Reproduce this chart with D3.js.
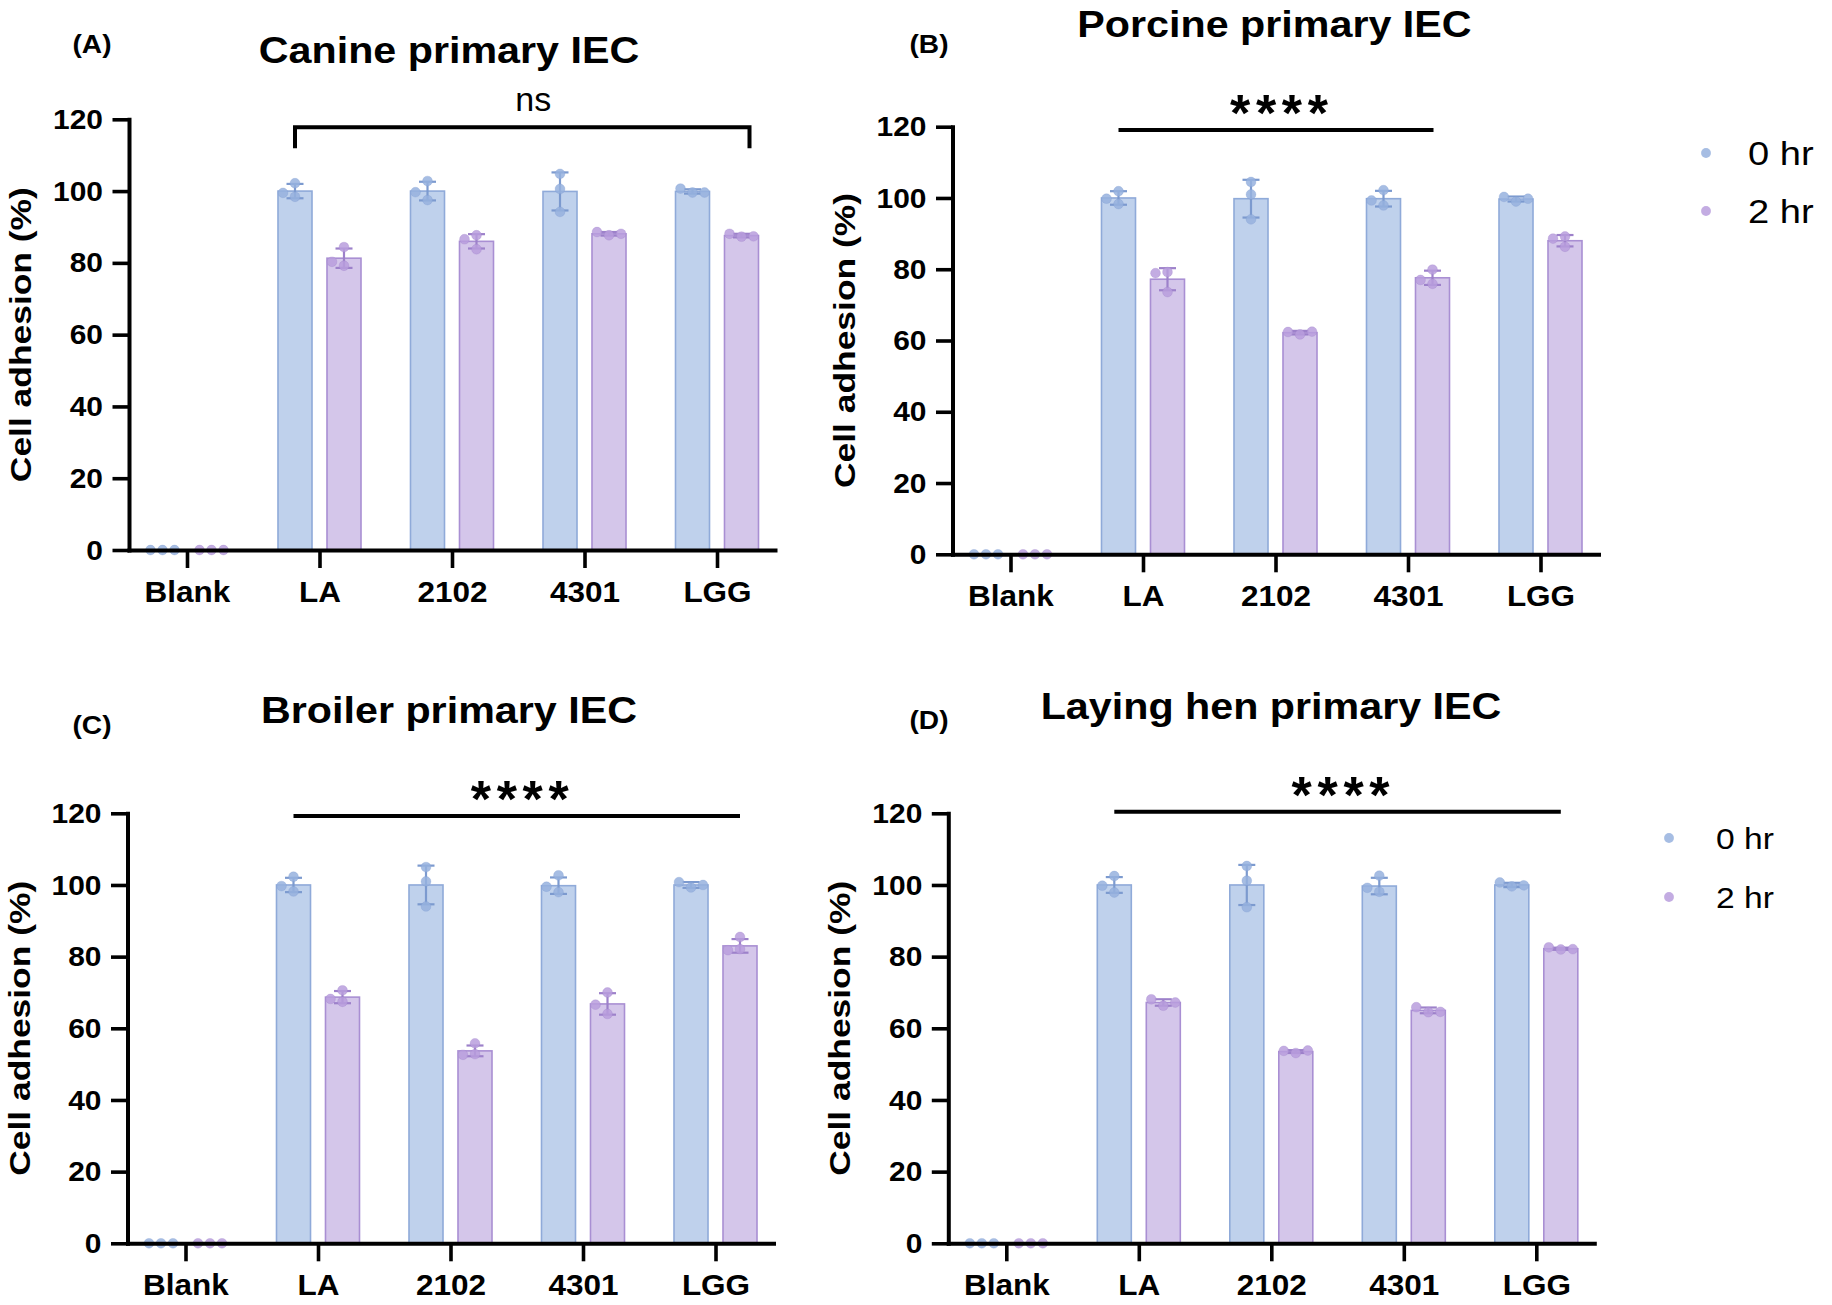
<!DOCTYPE html>
<html><head><meta charset="utf-8">
<script src="https://cdn.jsdelivr.net/npm/d3@7"></script>
<style>
html,body{margin:0;padding:0;background:#fff;}
svg{display:block;}
</style></head><body>
<svg id="chart" width="1832" height="1305"></svg>
<script>
// ---------- DATA ----------
const categories = ["Blank","LA","2102","4301","LGG"];
const seriesNames = ["0 hr","2 hr"];
const yTicks = [0,20,40,60,80,100,120];
const panelTitles = ["Canine primary IEC","Porcine primary IEC","Broiler primary IEC","Laying hen primary IEC"];
const panelLetters = ["(A)","(B)","(C)","(D)"];
const yAxisLabel = "Cell adhesion (%)";

// (A) Canine
const canineMean0 = [0, 100.0, 100.0, 99.9, 99.9];
const canineSD0   = [0, 2.0, 2.6, 5.3, 0.6];
const canineMean2 = [0, 81.3, 86.0, 88.1, 87.6];
const canineSD2   = [0, 2.7, 2.0, 0.5, 0.5];
const caninePoints0 = [[0,0,0],[102.2,98.4,99.5],[102.8,97.5,99.7],[104.8,100.6,94.2],[99.6,100.7,99.6]];
const caninePoints2 = [[0,0,0],[79.2,84.4,80.3],[87.7,83.8,86.6],[87.7,88.6,88.1],[87.3,88.1,87.4]];

// (B) Porcine
const porcineMean0 = [0, 100.0, 99.8, 99.8, 99.7];
const porcineSD0   = [0, 1.9, 5.3, 2.2, 0.7];
const porcineMean2 = [0, 77.2, 62.2, 77.6, 88.0];
const porcineSD2   = [0, 3.1, 0.5, 2.0, 1.6];
const porcinePoints0 = [[0,0,0],[101.9,98.3,99.8],[104.5,101.0,94.0],[97.9,102.2,99.3],[99.0,100.3,99.8]];
const porcinePoints2 = [[0,0,0],[79.2,73.6,78.9],[61.7,62.4,62.5],[75.9,79.9,77.0],[89.2,86.3,88.6]];

// (C) Broiler
const broilerMean0 = [0, 100.0, 100.0, 99.8, 100.0];
const broilerSD0   = [0, 2.0, 5.4, 2.3, 0.8];
const broilerMean2 = [0, 68.7, 53.7, 66.8, 83.0];
const broilerSD2   = [0, 1.7, 1.5, 3.0, 1.9];
const broilerPoints0 = [[0,0,0],[102.3,98.2,99.7],[105.0,101.0,94.0],[98.0,102.7,99.5],[99.3,100.8,100.0]];
const broilerPoints2 = [[0,0,0],[70.6,67.4,68.2],[52.8,55.8,52.6],[64.0,70.0,66.6],[82.1,85.5,81.8]];

// (D) Laying hen
const henMean0 = [0, 100.0, 100.0, 99.7, 100.0];
const henSD0   = [0, 2.2, 5.6, 2.3, 0.6];
const henMean2 = [0, 67.2, 53.5, 65.0, 82.2];
const henSD2   = [0, 0.9, 0.4, 0.8, 0.3];
const henPoints0 = [[0,0,0],[102.5,97.9,99.8],[105.3,101.2,93.8],[98.1,102.6,99.2],[99.6,100.7,99.9]];
const henPoints2 = [[0,0,0],[66.3,68.1,67.2],[53.1,53.7,53.8],[64.5,65.9,64.6],[82.0,82.6,82.1]];

// significance annotations
const sigLabels = ["ns","****","****","****"];
const sigFrom = ["LA","LA","LA","LA"];
const sigTo   = ["LGG","4301","LGG","LGG"];

// ---------- LAYOUT / STYLE ----------
const panelData = [
  {mean:[canineMean0,canineMean2], sd:[canineSD0,canineSD2], pts:[caninePoints0,caninePoints2]},
  {mean:[porcineMean0,porcineMean2], sd:[porcineSD0,porcineSD2], pts:[porcinePoints0,porcinePoints2]},
  {mean:[broilerMean0,broilerMean2], sd:[broilerSD0,broilerSD2], pts:[broilerPoints0,broilerPoints2]},
  {mean:[henMean0,henMean2], sd:[henSD0,henSD2], pts:[henPoints0,henPoints2]}
];
const layout = [
  {x0:129,   yZero:550,    yTop:119.3, titleX:449,    titleY:63.3,  letterX:92,  letterY:53,   sigY:127.3, bracket:true, sigExtra:8},
  {x0:952.5, yZero:554.3,  yTop:126.7, titleX:1274.5, titleY:36.7,  letterX:929, letterY:53,   sigY:130, sigExtra:1,
     legend:{x:1706, ys:[153,211], tx:1748, fs:34}},
  {x0:127.5, yZero:1243.3, yTop:813.3, titleX:449,    titleY:723.3, letterX:92,  letterY:734,  sigY:816, sigExtra:0},
  {x0:948.3, yZero:1243.3, yTop:813.3, titleX:1271,   titleY:719.3, letterX:929, letterY:728.5, sigY:811.7, sigExtra:0,
     legend:{x:1669, ys:[838,897], tx:1716, fs:30}}
];
const AXIS_LEN = 646;
const FONT = '"Liberation Sans", Arial, Helvetica, sans-serif';
const colors = {
  fill:   ["#BFD1EC", "#D4C6EA"],
  stroke: ["#8FAAD9", "#A98FD3"],
  err:    ["#7C9ACF", "#9D81CA"],
  dot:    ["#97B1DE", "#B99EDD"]
};
const DOT_R = 4.9, DOT_STEP = 12, CAP = 8.5;

function stretch(sel, k){
  sel.each(function(){
    const L = this.getComputedTextLength();
    d3.select(this).attr("textLength", L*k).attr("lengthAdjust","spacingAndGlyphs");
  });
}
function swarm(vals, y){
  const placed = [];
  return vals.map(v => {
    const py = y(v);
    const cands = [0,-DOT_STEP,DOT_STEP,-2*DOT_STEP,2*DOT_STEP];
    let off = 0;
    for (const c of cands){
      if (placed.every(p => Math.hypot(p.dx-c, p.y-py) >= 2*DOT_R)) { off = c; break; }
    }
    placed.push({dx:off, y:py});
    return {v, dx:off, y:py};
  });
}

const svg = d3.select("#chart");
svg.append("rect").attr("width",1832).attr("height",1305).attr("fill","#fff");

layout.forEach((L, pi) => {
  const D = panelData[pi];
  const g = svg.append("g");
  const x = d3.scalePoint().domain(categories).range([L.x0, L.x0 + AXIS_LEN]).padding(0.4377);
  const xs = d3.scaleBand().domain(seriesNames).range([-41.5, 41.5]).paddingInner(0.306);
  const y = d3.scaleLinear().domain([0,120]).range([L.yZero, L.yTop]);

  // bars
  seriesNames.forEach((s, si) => {
    const bw = xs.bandwidth();
    g.append("g").selectAll("rect").data(categories.map((c,i)=>({c, v:D.mean[si][i]})).filter(d=>d.v>0))
      .join("rect")
      .attr("x", d => x(d.c) + xs(s))
      .attr("y", d => y(d.v))
      .attr("width", bw)
      .attr("height", d => y(0) - y(d.v))
      .attr("fill", colors.fill[si])
      .attr("stroke", colors.stroke[si])
      .attr("stroke-width", 1.6);
  });

  // error bars
  seriesNames.forEach((s, si) => {
    const eg = g.append("g").attr("stroke", colors.err[si]).attr("stroke-width", 2.2).attr("fill","none");
    categories.forEach((c, i) => {
      const m = D.mean[si][i], sd = D.sd[si][i];
      if (sd <= 0) return;
      const cx = x(c) + xs(s) + xs.bandwidth()/2;
      eg.append("line").attr("x1",cx).attr("x2",cx).attr("y1",y(m-sd)).attr("y2",y(m+sd));
      eg.append("line").attr("x1",cx-CAP).attr("x2",cx+CAP).attr("y1",y(m+sd)).attr("y2",y(m+sd));
      eg.append("line").attr("x1",cx-CAP).attr("x2",cx+CAP).attr("y1",y(m-sd)).attr("y2",y(m-sd));
    });
  });

  // dots
  seriesNames.forEach((s, si) => {
    const dg = g.append("g");
    categories.forEach((c, i) => {
      const cx = x(c) + xs(s) + xs.bandwidth()/2;
      swarm(D.pts[si][i], y).forEach(p => {
        dg.append("circle").attr("cx", cx + p.dx).attr("cy", p.y).attr("r", DOT_R)
          .attr("fill", colors.dot[si]).attr("fill-opacity", 0.85)
          .attr("stroke", colors.err[si]).attr("stroke-opacity", 0.35).attr("stroke-width", 0.8);
      });
    });
  });

  // axes
  const ya = g.append("g").attr("transform", `translate(${L.x0},0)`)
    .call(d3.axisLeft(y).tickValues(yTicks).tickSize(16.5).tickSizeOuter(0).tickPadding(9.5));
  const xa = g.append("g").attr("transform", `translate(0,${L.yZero})`)
    .call(d3.axisBottom(x).tickSize(18).tickSizeOuter(0).tickPadding(12.7));
  [ya, xa].forEach(a => {
    a.attr("font-family", FONT).attr("font-weight","bold");
    a.select(".domain").attr("stroke","#000").attr("stroke-width",4).attr("stroke-linecap","square");
    a.selectAll(".tick line").attr("stroke","#000").attr("stroke-width",3.6);
    a.selectAll(".tick text").attr("fill","#000");
  });
  ya.attr("font-size", 28.5); stretch(ya.selectAll(".tick text"), 1.05);
  xa.attr("font-size", 30); stretch(xa.selectAll(".tick text"), 1.05);

  // y label
  const yl = g.append("text")
    .attr("transform", `translate(${L.x0 - 98},${(L.yZero + L.yTop)/2}) rotate(-90)`)
    .attr("text-anchor","middle").attr("font-family",FONT).attr("font-weight","bold")
    .attr("font-size",30).attr("fill","#000").text(yAxisLabel);
  stretch(yl, 1.18);

  // title
  const tt = g.append("text").attr("x", L.titleX).attr("y", L.titleY)
    .attr("text-anchor","middle").attr("font-family",FONT).attr("font-weight","bold")
    .attr("font-size",36.5).attr("fill","#000").text(panelTitles[pi]);
  stretch(tt, 1.13);

  // letter
  const lt = g.append("text").attr("x", L.letterX).attr("y", L.letterY)
    .attr("text-anchor","middle").attr("font-family",FONT).attr("font-weight","bold")
    .attr("font-size",26).attr("fill","#000").text(panelLetters[pi]);
  stretch(lt, 1.08);

  // significance
  const xa1 = x(sigFrom[pi]) + xs(seriesNames[0]) + xs.bandwidth()/2;
  const xb1 = x(sigTo[pi]) + xs(seriesNames[1]) + xs.bandwidth()/2 + L.sigExtra;
  const sg = g.append("g");
  if (L.bracket) {
    sg.append("path").attr("d", `M${xa1},${L.sigY + 21}V${L.sigY}H${xb1}V${L.sigY + 21}`)
      .attr("fill","none").attr("stroke","#000").attr("stroke-width",4);
    sg.append("text").attr("x", (xa1+xb1)/2 + 11).attr("y", L.sigY - 16)
      .attr("text-anchor","middle").attr("font-family",FONT).attr("font-size",34)
      .attr("fill","#000").text(sigLabels[pi]);
  } else {
    sg.append("line").attr("x1",xa1).attr("x2",xb1).attr("y1",L.sigY).attr("y2",L.sigY)
      .attr("stroke","#000").attr("stroke-width",4);
    sg.append("text").attr("x", (xa1+xb1)/2 + 3).attr("y", L.sigY + 1)
      .attr("text-anchor","middle").attr("font-family",FONT).attr("font-weight","bold")
      .attr("font-size",52).attr("fill","#000")
      .attr("textLength", 98).attr("lengthAdjust","spacing")
      .text(sigLabels[pi]);
  }

  // legend
  if (L.legend) {
    seriesNames.forEach((s, si) => {
      g.append("circle").attr("cx", L.legend.x).attr("cy", L.legend.ys[si]).attr("r", DOT_R)
        .attr("fill", colors.dot[si]).attr("fill-opacity",0.85);
      const t = g.append("text").attr("x", L.legend.tx).attr("y", L.legend.ys[si])
        .attr("dy","0.36em").attr("font-family",FONT).attr("font-size",L.legend.fs)
        .attr("fill","#000").text(s);
      stretch(t, 1.12);
    });
  }
});
</script>
</body></html>
